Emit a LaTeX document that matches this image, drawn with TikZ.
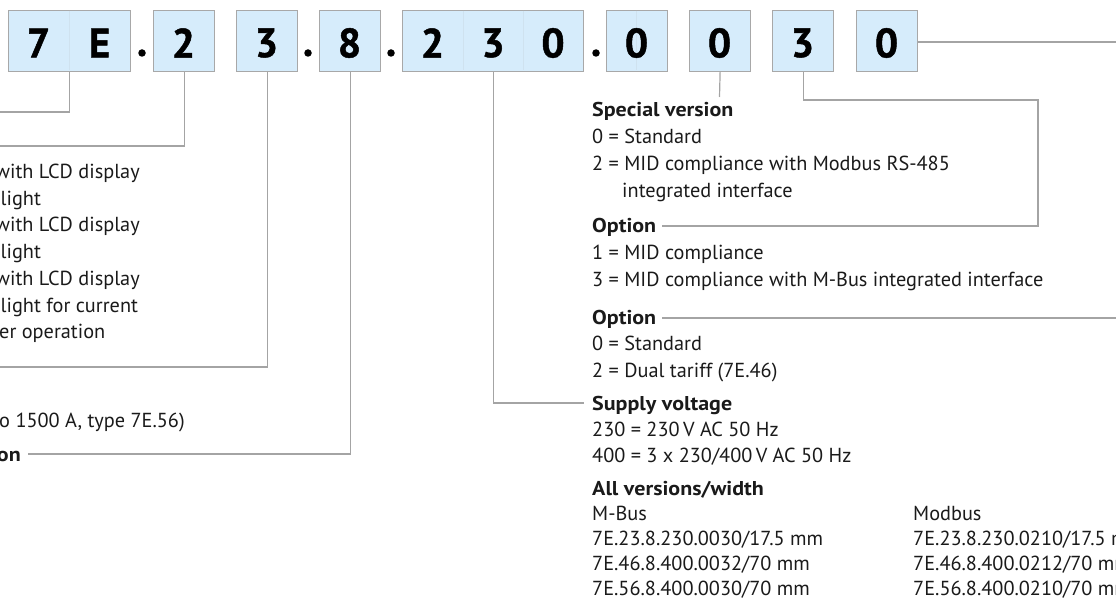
\documentclass[tikz,border=0pt]{standalone}
\usepackage{fontspec}
\setmainfont{PT Sans}
\newfontfamily\headfont{PT Sans}[FakeStretch=1.1]
\newfontfamily\digitfont{PT Sans}[FakeBold=1.2]
\definecolor{boxfill}{HTML}{D6ECFB}
\definecolor{boxline}{HTML}{A8A8A8}
\definecolor{conncol}{HTML}{A4A4A4}
\definecolor{txt}{HTML}{1A1A1A}
\begin{document}
\begin{tikzpicture}[x=1pt,y=-1pt,
  grp/.style={draw=boxline, fill=boxfill, line width=1.2pt, minimum height=61pt, inner sep=0pt, anchor=north west},
  digit/.style={font=\digitfont\fontsize{41}{41}\selectfont\bfseries, text=black, inner sep=0pt},
  divider/.style={draw=boxfill!85!boxline, line width=0.8pt},
  conn/.style={draw=conncol, line width=1.2pt},
  dot/.style={circle, fill=black, inner sep=0pt, minimum size=7.5pt},
  lbl/.style={font=\fontsize{20.3}{20}\selectfont, text=txt, anchor=base west, inner sep=0pt},
  head/.style={font=\headfont\fontsize{20}{20}\selectfont\bfseries, text=txt, anchor=base west, inner sep=0pt}]
\useasboundingbox (0,0) rectangle (1116,604);
\clip (0,0) rectangle (1116,604);
% ---------- code boxes ----------
\node[grp, minimum width=122pt] (g7E) at (8,10) {};
\node[grp, minimum width=61pt] (g2) at (153,10) {};
\node[grp, minimum width=61pt] (g3) at (236,10) {};
\node[grp, minimum width=61pt] (g8) at (319,10) {};
\node[grp, minimum width=181pt] (g230) at (402,10) {};
\node[grp, minimum width=61pt] (g0a) at (606,10) {};
\node[grp, minimum width=61pt] (g0b) at (689,10) {};
\node[grp, minimum width=61pt] (g3b) at (772,10) {};
\node[grp, minimum width=61pt] (g0c) at (856,10) {};
% faint dividers
\draw[divider] (69,10.6) -- (69,70.4);
\draw[divider] (463,10.6) -- (463,70.4);
\draw[divider] (523,10.6) -- (523,70.4);
\draw[divider] (636.5,10.6) -- (636.5,70.4);
% digits
\node[digit] (d7) at (38.5,43) {7};
\node[digit] (dE) at (99.5,43) {E};
\node[digit] (d2) at (183.5,43) {2};
\node[digit] (d3) at (266.5,43) {3};
\node[digit] (d8) at (349.5,43) {8};
\node[digit] (d2b) at (432.5,43) {2};
\node[digit] (d3b) at (493,43) {3};
\node[digit] (d0) at (553,43) {0};
\node[digit] (d0a) at (636.5,43) {0};
\node[digit] (d0b) at (719.5,43) {0};
\node[digit] (d3c) at (802.5,43) {3};
\node[digit] (d0c) at (886.5,43) {0};
% dots
\node[dot] (p1) at (142,53) {};
\node[dot] (p2) at (308,53) {};
\node[dot] (p3) at (391,53) {};
\node[dot] (p4) at (596,53) {};
% ---------- left texts (cut by the edge) ----------
\node[lbl] (l1) at (-5,178.7) {with LCD display};
\node[lbl] (l2) at (0.5,205.3) {light};
\node[lbl] (l3) at (-5,232) {with LCD display};
\node[lbl] (l4) at (0.5,258.7) {light};
\node[lbl] (l5) at (-5,285.4) {with LCD display};
\node[lbl] (l6) at (0.5,312) {light for current};
\node[lbl] (l7) at (-1,338.7) {er operation};
\node[lbl] (l8) at (-1,427) {o 1500 A, type 7E.56)};
\node[head, anchor=base east] (l9) at (21,461) {on};
% ---------- right texts ----------
\node[head] (sv) at (592,117) {Special version};
\node[lbl] (sv0) at (592,144) {0 = Standard};
\node[lbl] (sv2) at (592,171) {2 = MID compliance with Modbus RS-485};
\node[lbl] (sv2b) at (622,197.5) {integrated interface};
\node[head] (o1) at (592,233) {Option};
\node[lbl] (o11) at (592,259.5) {1 = MID compliance};
\node[lbl] (o13) at (592,286) {3 = MID compliance with M-Bus integrated interface};
\node[head] (o2) at (592,324) {Option};
\node[lbl] (o20) at (592,350.5) {0 = Standard};
\node[lbl] (o22) at (592,377) {2 = Dual tariff (7E.46)};
\node[head] (sup) at (592,410) {Supply voltage};
\node[lbl] (s230) at (592,436) {230 = 230\,V AC 50 Hz};
\node[lbl] (s400) at (592,462) {400 = 3 x 230/400\,V AC 50 Hz};
\node[head] (all) at (592,495) {All versions/width};
\node[lbl] (mb) at (592,520.5) {M-Bus};
\node[lbl] (mb1) at (592,545.5) {7E.23.8.230.0030/17.5 mm};
\node[lbl] (mb2) at (592,570.5) {7E.46.8.400.0032/70 mm};
\node[lbl] (mb3) at (592,595.5) {7E.56.8.400.0030/70 mm};
\node[lbl] (md) at (913,520.5) {Modbus};
\node[lbl] (md1) at (913,545.5) {7E.23.8.230.0210/17.5 mm};
\node[lbl] (md2) at (913,570.5) {7E.46.8.400.0212/70 mm};
\node[lbl] (md3) at (913,595.5) {7E.56.8.400.0210/70 mm};
% ---------- connectors ----------
\coordinate (e1) at (-2,112);
\coordinate (e2) at (-2,146);
\coordinate (e3) at (-2,367);
\coordinate (e8) at (28,454);
\coordinate (e230) at (584,403);
\coordinate (esv) at (719.5,97);
\coordinate (eopt) at (1118,42);
\coordinate (eopt1) at (1038,100);
\coordinate (eopt2) at (1118,318);
\draw[conn] (g7E.south) |- (e1);
\draw[conn] (g2.south) |- (e2);
\draw[conn] (g3.south) |- (e3);
\draw[conn] (g8.south) |- (e8);
\draw[conn] (g230.south) |- (e230);
\draw[conn] (g0b.south) -- (esv);
\draw[conn] (g3b.south) |- (eopt1) |- ([xshift=6pt]o1.base east |- 0,226);
\draw[conn] (g0c.east |- eopt) -- (eopt);
\draw[conn] ([xshift=6pt]o2.base east |- eopt2) -- (eopt2);
\end{tikzpicture}
\end{document}
